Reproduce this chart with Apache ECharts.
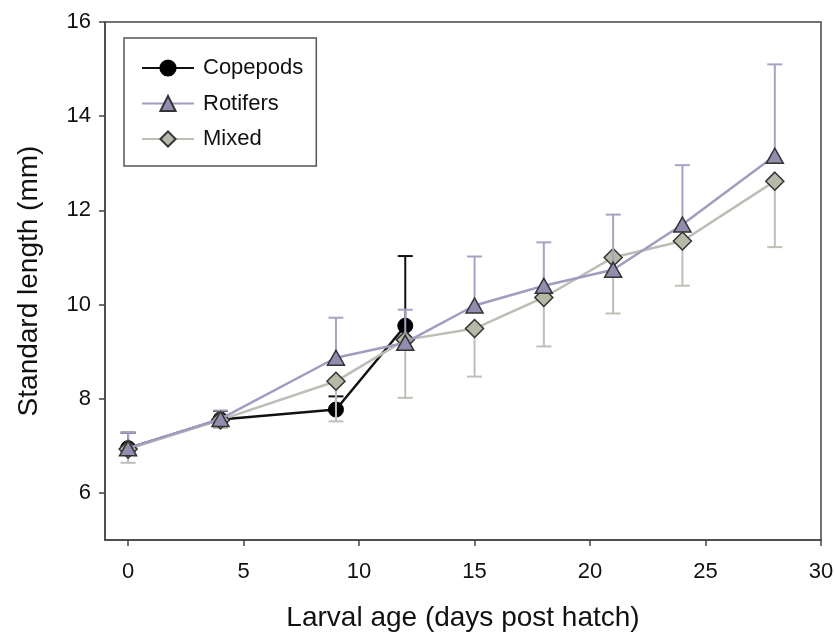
<!DOCTYPE html>
<html>
<head>
<meta charset="utf-8">
<script src="https://cdn.jsdelivr.net/npm/echarts@6/dist/echarts.min.js"></script>
<style>html,body{margin:0;padding:0;background:#fff}#c{width:835px;height:634px}</style>
</head>
<body>
<div id="c"></div>
<script>
const days = [0, 4, 9, 12, 15, 18, 21, 24, 28];
const copepodDays = [0, 4, 9, 12];
const copepodMean = [6.95, 7.56, 7.77, 9.55];
const copepodErr = [0.33, 0.18, 0.28, 1.48];
const rotiferMean = [6.95, 7.57, 8.87, 9.19, 9.98, 10.40, 10.74, 11.70, 13.16];
const rotiferErr = [0.33, 0.18, 0.85, 0.70, 1.04, 0.92, 1.17, 1.26, 1.94];
const mixedMean = [6.93, 7.55, 8.37, 9.25, 9.49, 10.15, 11.00, 11.35, 12.62];
const mixedErr = [0.29, 0.17, 0.85, 1.23, 1.02, 1.04, 1.19, 0.95, 1.40];
const xTicks = [0, 5, 10, 15, 20, 25, 30];
const yTicks = [6, 8, 10, 12, 14, 16];

const FONT = "'Liberation Sans', Arial, sans-serif";

function errSeries(name, xs, means, errs, dir, color, z) {
  return {
    type: 'custom',
    name: name + ' err',
    z: z,
    silent: true,
    data: xs.map((x, i) => [x, means[i], means[i] + dir * errs[i]]),
    renderItem: function (params, api) {
      const p0 = api.coord([api.value(0), api.value(1)]);
      const p1 = api.coord([api.value(0), api.value(2)]);
      const hw = 7.5;
      return {
        type: 'group',
        children: [
          { type: 'line', shape: { x1: p0[0], y1: p0[1], x2: p1[0], y2: p1[1] }, style: { stroke: color, lineWidth: 2 } },
          { type: 'line', shape: { x1: p1[0] - hw, y1: p1[1], x2: p1[0] + hw, y2: p1[1] }, style: { stroke: color, lineWidth: 2 } }
        ]
      };
    }
  };
}

const chart = echarts.init(document.getElementById('c'));
chart.setOption({
  animation: false,
  backgroundColor: '#fff',
  grid: { left: 105, right: 14, top: 22, bottom: 94, outerBoundsMode: 'none', containLabel: false,
          show: true, borderColor: '#444', borderWidth: 1.5 },
  legend: {
    orient: 'vertical',
    left: 124, top: 38,
    padding: [19, 13, 16, 17],
    borderColor: '#555', borderWidth: 1.5,
    itemWidth: 52, itemHeight: 19, itemGap: 13.5,
    textStyle: { fontFamily: FONT, fontSize: 22, color: '#111', padding: [0, 0, 0, 4] },
    data: ['Copepods', 'Rotifers', 'Mixed']
  },
  xAxis: {
    type: 'value', min: -1, max: 30,
    name: 'Larval age (days post hatch)', nameLocation: 'middle', nameGap: 64,
    nameTextStyle: { fontFamily: FONT, fontSize: 28, color: '#111' },
    axisLine: { show: true, onZero: false, lineStyle: { color: '#444', width: 1.5 } },
    axisTick: { show: true, length: 6, customValues: xTicks, lineStyle: { color: '#444', width: 1.5 } },
    axisLabel: { customValues: xTicks, fontFamily: FONT, fontSize: 22, color: '#111', margin: 21 },
    splitLine: { show: false }
  },
  yAxis: {
    type: 'value', min: 5, max: 16,
    name: 'Standard length (mm)', nameLocation: 'middle', nameGap: 62,
    nameTextStyle: { fontFamily: FONT, fontSize: 28, color: '#111' },
    axisLine: { show: true, onZero: false, lineStyle: { color: '#444', width: 1.5 } },
    axisTick: { show: true, length: 6, customValues: yTicks, lineStyle: { color: '#444', width: 1.5 } },
    axisLabel: { customValues: yTicks, fontFamily: FONT, fontSize: 22, color: '#111', margin: 14 },
    splitLine: { show: false }
  },
  series: [
    errSeries('Copepods', copepodDays, copepodMean, copepodErr, 1, '#111', 2),
    {
      type: 'line', name: 'Copepods', z: 3,
      data: copepodDays.map((x, i) => [x, copepodMean[i]]),
      symbol: 'circle', symbolSize: 15, showAllSymbol: true,
      lineStyle: { color: '#111', width: 2.5 },
      itemStyle: { color: '#000', borderColor: '#000', borderWidth: 1 }
    },
    errSeries('Mixed', days, mixedMean, mixedErr, -1, '#bfbfb7', 4),
    {
      type: 'line', name: 'Mixed', z: 5,
      data: days.map((x, i) => [x, mixedMean[i]]),
      symbol: 'diamond', symbolSize: [18, 18], showAllSymbol: true,
      lineStyle: { color: '#bdbdb5', width: 2.5 },
      itemStyle: { color: '#b7b8a6', borderColor: '#333', borderWidth: 1.5 }
    },
    errSeries('Rotifers', days, rotiferMean, rotiferErr, 1, '#a6a3c3', 6),
    {
      type: 'line', name: 'Rotifers', z: 7,
      data: days.map((x, i) => [x, rotiferMean[i]]),
      symbol: 'triangle', symbolSize: [17, 15], showAllSymbol: true,
      lineStyle: { color: '#a09cc0', width: 2.5 },
      itemStyle: { color: '#908dae', borderColor: '#333', borderWidth: 1.5 }
    }
  ]
});
</script>
</body>
</html>
